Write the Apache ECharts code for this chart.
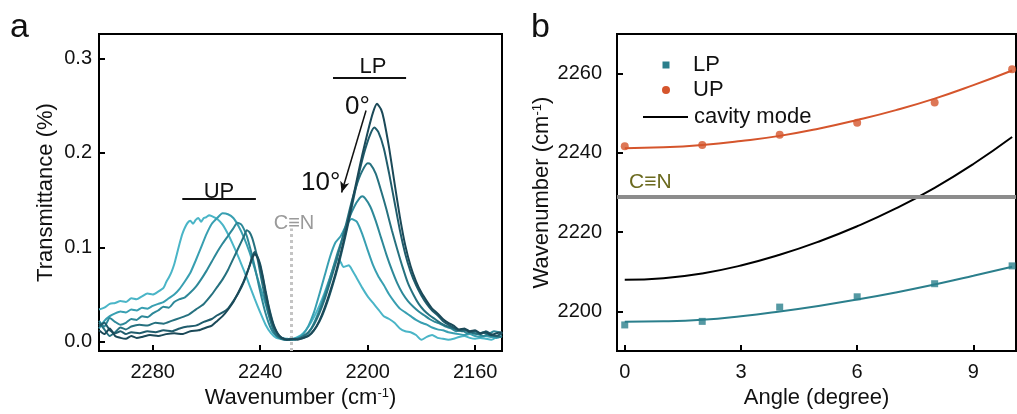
<!DOCTYPE html>
<html>
<head>
<meta charset="utf-8">
<script src="https://cdn.jsdelivr.net/npm/echarts@6/dist/echarts.min.js"></script>
<style>
  html, body { margin: 0; padding: 0; background: #fff; }
  #chart { width: 1017px; height: 414px; }
</style>
</head>
<body>
<div id="chart"></div>
<script>
// ---- panel a: transmittance spectra, [wavenumber, transmittance] ----
const spec0 = [[2300,0.012],[2298,0.008],[2296,0.014],[2294,0.006],[2292,0.004],[2290,0.003],[2288,0.006],[2286,0.004],[2284,0.005],[2281,0.007],[2278,0.006],[2275,0.008],[2272,0.009],[2269,0.008],[2266,0.011],[2263,0.012],[2260,0.015],[2258,0.017],[2256,0.022],[2254,0.027],[2252,0.034],[2250,0.042],[2248,0.053],[2246,0.065],[2244,0.080],[2243,0.088],[2242,0.093],[2241,0.089],[2240,0.080],[2239,0.067],[2238,0.052],[2237,0.038],[2236,0.026],[2235,0.017],[2234,0.011],[2233,0.007],[2232,0.004],[2230,0.002],[2228,0.003],[2226,0.002],[2224,0.004],[2222,0.006],[2220,0.012],[2218,0.022],[2216,0.036],[2214,0.053],[2212,0.072],[2210,0.094],[2208,0.118],[2206,0.145],[2204,0.172],[2202,0.198],[2200,0.222],[2198,0.243],[2196.5,0.252],[2195,0.246],[2194,0.236],[2192,0.205],[2190,0.168],[2188,0.132],[2186,0.102],[2184,0.080],[2182,0.064],[2180,0.052],[2178,0.043],[2176,0.035],[2174,0.030],[2172,0.024],[2170,0.020],[2168,0.017],[2166,0.013],[2164,0.014],[2162,0.011],[2160,0.012],[2158,0.009],[2156,0.010],[2154,0.007],[2152,0.009],[2150,0.010]];
const spec2 = [[2300,0.016],[2298,0.020],[2296,0.012],[2294,0.009],[2292,0.011],[2290,0.008],[2288,0.010],[2285,0.009],[2282,0.011],[2279,0.010],[2276,0.012],[2273,0.011],[2270,0.014],[2267,0.016],[2264,0.017],[2261,0.021],[2258,0.024],[2256,0.028],[2254,0.031],[2252,0.035],[2250,0.043],[2248,0.052],[2246,0.064],[2244,0.080],[2243,0.090],[2242,0.095],[2241,0.090],[2240,0.082],[2239,0.069],[2238,0.054],[2237,0.040],[2236,0.028],[2235,0.018],[2234,0.011],[2233,0.006],[2231,0.003],[2229,0.002],[2227,0.003],[2225,0.003],[2223,0.005],[2221,0.009],[2219,0.016],[2217,0.027],[2215,0.042],[2213,0.060],[2211,0.080],[2209,0.103],[2207,0.128],[2205,0.155],[2203,0.181],[2201,0.203],[2199,0.220],[2197.5,0.227],[2196,0.222],[2194,0.205],[2192,0.178],[2190,0.148],[2188,0.118],[2186,0.093],[2184,0.074],[2182,0.060],[2180,0.049],[2178,0.040],[2176,0.033],[2174,0.028],[2172,0.022],[2170,0.018],[2168,0.015],[2166,0.012],[2164,0.013],[2162,0.010],[2160,0.011],[2158,0.008],[2156,0.011],[2154,0.008],[2152,0.006],[2150,0.009]];
const spec4 = [[2300,0.020],[2298,0.013],[2296,0.006],[2294,0.010],[2292,0.015],[2290,0.013],[2288,0.016],[2285,0.018],[2282,0.017],[2279,0.020],[2276,0.019],[2273,0.022],[2270,0.025],[2267,0.028],[2264,0.034],[2261,0.040],[2258,0.050],[2256,0.058],[2254,0.066],[2252,0.076],[2250,0.088],[2248,0.100],[2246,0.112],[2245,0.118],[2244,0.116],[2243,0.110],[2242,0.100],[2241,0.088],[2240,0.073],[2239,0.058],[2238,0.044],[2237,0.031],[2236,0.020],[2235,0.012],[2234,0.007],[2232,0.003],[2230,0.002],[2228,0.002],[2226,0.003],[2224,0.006],[2222,0.010],[2220,0.018],[2218,0.030],[2216,0.045],[2214,0.063],[2212,0.082],[2210,0.103],[2208,0.125],[2206,0.148],[2204,0.167],[2202,0.181],[2200,0.189],[2199,0.188],[2197,0.178],[2195,0.160],[2193,0.140],[2191,0.118],[2189,0.098],[2187,0.079],[2185,0.062],[2183,0.050],[2181,0.040],[2179,0.033],[2177,0.028],[2175,0.024],[2173,0.020],[2171,0.017],[2169,0.015],[2167,0.013],[2165,0.011],[2163,0.012],[2161,0.009],[2159,0.008],[2157,0.010],[2155,0.007],[2153,0.006],[2150,0.005]];
const spec6 = [[2300,0.022],[2298,0.016],[2296,0.025],[2294,0.021],[2292,0.018],[2290,0.020],[2288,0.024],[2286,0.023],[2284,0.027],[2282,0.026],[2280,0.030],[2278,0.033],[2276,0.037],[2274,0.036],[2272,0.042],[2270,0.045],[2268,0.047],[2266,0.052],[2264,0.058],[2262,0.066],[2260,0.075],[2258,0.085],[2256,0.095],[2254,0.104],[2252,0.112],[2250,0.120],[2248.5,0.126],[2247,0.124],[2246,0.119],[2245,0.112],[2244,0.102],[2243,0.091],[2242,0.079],[2241,0.066],[2240,0.053],[2239,0.041],[2238,0.030],[2237,0.021],[2236,0.014],[2235,0.009],[2233,0.004],[2231,0.002],[2229,0.003],[2227,0.002],[2225,0.004],[2223,0.007],[2221,0.014],[2219,0.026],[2217,0.041],[2215,0.058],[2213,0.077],[2211,0.096],[2209,0.113],[2207,0.130],[2205,0.143],[2203,0.152],[2202,0.154],[2201,0.152],[2199,0.143],[2197,0.128],[2195,0.110],[2193,0.092],[2191,0.076],[2189,0.062],[2187,0.051],[2185,0.043],[2183,0.037],[2181,0.032],[2179,0.028],[2177,0.024],[2175,0.021],[2173,0.019],[2171,0.016],[2169,0.014],[2167,0.011],[2165,0.012],[2163,0.009],[2161,0.010],[2159,0.008],[2157,0.006],[2155,0.008],[2153,0.011],[2150,0.009]];
const spec8 = [[2300,0.014],[2298,0.022],[2296,0.027],[2294,0.030],[2292,0.032],[2290,0.031],[2288,0.034],[2286,0.033],[2284,0.036],[2282,0.035],[2280,0.038],[2278,0.040],[2276,0.042],[2274,0.046],[2272,0.050],[2270,0.056],[2268,0.064],[2266,0.073],[2264,0.086],[2262,0.100],[2260,0.114],[2258,0.125],[2256,0.131],[2254,0.136],[2252,0.135],[2250,0.131],[2248,0.122],[2246,0.110],[2244,0.095],[2242,0.077],[2240,0.058],[2238,0.040],[2237,0.030],[2236,0.022],[2235,0.015],[2234,0.009],[2232,0.004],[2230,0.003],[2228,0.002],[2226,0.004],[2224,0.008],[2222,0.017],[2220,0.031],[2218,0.050],[2216,0.070],[2214,0.090],[2212,0.105],[2210,0.112],[2208,0.123],[2206,0.130],[2204,0.127],[2202,0.114],[2200,0.097],[2198,0.081],[2196,0.069],[2194,0.060],[2192,0.050],[2190,0.042],[2188,0.035],[2186,0.031],[2184,0.027],[2182,0.023],[2180,0.020],[2178,0.018],[2176,0.015],[2174,0.013],[2172,0.012],[2170,0.010],[2168,0.009],[2166,0.008],[2164,0.007],[2162,0.008],[2160,0.006],[2158,0.005],[2156,0.006],[2154,0.005],[2152,0.004],[2150,0.006]];
const spec10 = [[2300,0.034],[2298,0.036],[2296,0.040],[2294,0.041],[2292,0.043],[2290,0.042],[2288,0.046],[2286,0.045],[2284,0.048],[2282,0.051],[2280,0.050],[2278,0.053],[2276,0.057],[2275,0.063],[2274,0.068],[2273,0.074],[2272,0.082],[2271,0.093],[2270,0.104],[2269,0.114],[2268,0.121],[2267,0.126],[2266,0.128],[2265,0.125],[2264,0.129],[2263,0.131],[2262,0.127],[2261,0.131],[2260,0.132],[2259,0.134],[2258,0.133],[2256,0.130],[2254,0.124],[2252,0.114],[2250,0.102],[2248,0.089],[2246,0.075],[2244,0.060],[2242,0.045],[2240,0.031],[2238,0.018],[2236,0.009],[2234,0.004],[2232,0.003],[2230,0.002],[2228,0.003],[2226,0.005],[2224,0.009],[2222,0.016],[2220,0.026],[2218,0.038],[2216,0.052],[2214,0.068],[2212,0.084],[2211,0.088],[2210,0.084],[2209,0.079],[2208,0.080],[2207,0.081],[2206,0.077],[2204,0.067],[2202,0.057],[2200,0.048],[2198,0.041],[2196,0.034],[2194,0.027],[2192,0.024],[2190,0.020],[2188,0.014],[2186,0.011],[2184,0.010],[2182,0.007],[2180,0.002],[2178,0.005],[2176,0.007],[2174,0.004],[2172,0.003],[2170,0.002],[2168,0.003],[2166,0.005],[2164,0.006],[2162,0.004],[2160,0.003],[2158,0.004],[2156,0.003],[2154,0.002],[2152,0.005],[2150,0.010]];
const spectra = [spec0, spec2, spec4, spec6, spec8, spec10];
const spectrumNames = ['0°', '2°', '4°', '6°', '8°', '10°'];

const aTicksX = [2280, 2240, 2200, 2160];
const aTicksY = [0, 0.1, 0.2, 0.3];
const cnWave = 2228.5;            // C≡N stretch position (dotted line)
const upBar = [2269, 2241.6, 0.151];
const lpBar = [2212.9, 2185.7, 0.28];
const angleArrow = [[2200.6, 0.245], [2209.7, 0.158]];

// ---- panel b: dispersion ----
const ptAngles = [0, 2, 4, 6, 8, 10];
const lpPts = [2196.6, 2197.5, 2201.1, 2203.7, 2207.0, 2211.5];
const upPts = [2241.7, 2242.0, 2244.6, 2247.6, 2252.7, 2261.1];
const fitAngles = [0, 1, 2, 3, 4, 5, 6, 7, 8, 9, 10];
const upFit = [2241.2, 2241.4, 2242.0, 2243.0, 2244.3, 2246.1, 2248.3, 2250.8, 2253.7, 2257.1, 2260.8];
const cavityFit = [2208.0, 2208.4, 2209.6, 2211.6, 2214.3, 2217.6, 2221.5, 2226.0, 2231.2, 2237.2, 2244.0];
const lpFit = [2197.4, 2197.5, 2197.9, 2198.8, 2200.0, 2201.4, 2203.0, 2204.8, 2206.8, 2209.0, 2211.3];
const cnLevel = 2229;
const bTicksX = [0, 3, 6, 9];
const bTicksY = [2200, 2220, 2240, 2260];

const FONT = '"Liberation Sans", Arial, sans-serif';
const specColors = ['#1b4958', '#205c6c', '#26717f', '#2d8898', '#389fb1', '#4ab5c7'];
const LP_COLOR = '#2b7f8c';
const UP_COLOR = '#d5552c';

const pair = (xs, ys) => xs.map((x, i) => [x, ys[i]]);

function axisBase(ticks, fontSize, margin, fmt) {
    return {
        axisLine: {show: true, onZero: false, lineStyle: {color: '#000', width: 2}},
        axisTick: {show: true, inside: true, length: 6, customValues: ticks, lineStyle: {color: '#000', width: 2}},
        axisLabel: {customValues: ticks, color: '#111', fontSize: fontSize, fontFamily: FONT, margin: margin,
            formatter: fmt || (v => String(v))},
        splitLine: {show: false}
    };
}

const chart = echarts.init(document.getElementById('chart'), null, {renderer: 'canvas'});

const specSeries = spectra.map((d, i) => ({
    name: spectrumNames[i],
    type: 'line',
    xAxisIndex: 0, yAxisIndex: 0,
    data: d,
    symbol: 'none',
    smooth: 0.2,
    lineStyle: {color: specColors[i], width: 2},
    z: 3 + (5 - i)
}));

const noSym = {symbol: 'none'};

const option = {
    animation: false,
    grid: [
        {left: 99, top: 34, width: 403, height: 326, show: true, borderColor: '#000', borderWidth: 2, backgroundColor: 'transparent'},
        {left: 617, top: 34, width: 399, height: 327, show: true, borderColor: '#000', borderWidth: 2, backgroundColor: 'transparent'}
    ],
    xAxis: [
        Object.assign(axisBase(aTicksX, 20, 11), {
            type: 'value', gridIndex: 0, min: 2150, max: 2300, inverse: true,
            name: 'Wavenumber (cm{sup|-1})', nameLocation: 'middle', nameGap: 29,
            nameTextStyle: {fontSize: 22, fontFamily: FONT, color: '#111',
                rich: {sup: {fontSize: 13, fontFamily: FONT, color: '#111', verticalAlign: 'top'}}}
        }),
        Object.assign(axisBase(bTicksX, 20, 11), {
            type: 'value', gridIndex: 1, min: -0.2, max: 10.1,
            name: 'Angle (degree)', nameLocation: 'middle', nameGap: 29,
            nameTextStyle: {fontSize: 22, fontFamily: FONT, color: '#111'}
        })
    ],
    yAxis: [
        Object.assign(axisBase(aTicksY, 20, 7, v => v.toFixed(1)), {
            type: 'value', gridIndex: 0, min: -0.01, max: 0.326,
            name: 'Transmittance (%)', nameLocation: 'middle', nameGap: 42, nameRotate: 90,
            nameTextStyle: {fontSize: 22, fontFamily: FONT, color: '#111'}
        }),
        Object.assign(axisBase(bTicksY, 20, 15), {
            type: 'value', gridIndex: 1, min: 2190, max: 2270,
            name: 'Wavenumber (cm{sup|-1})', nameLocation: 'middle', nameGap: 64, nameRotate: 90,
            nameTextStyle: {fontSize: 22, fontFamily: FONT, color: '#111',
                rich: {sup: {fontSize: 13, fontFamily: FONT, color: '#111', verticalAlign: 'top'}}}
        })
    ],
    series: [
        // annotations for panel a
        {
            type: 'line', xAxisIndex: 0, yAxisIndex: 0, data: [], silent: true,
            markLine: {
                silent: true, symbol: 'none', label: {show: false},
                data: [
                    [{coord: [cnWave, -0.01], lineStyle: {color: '#c4c4c4', width: 3, type: [3, 3]}}, {coord: [cnWave, 0.12]}],
                    [{coord: [upBar[0], upBar[2]], lineStyle: {color: '#111', width: 2, type: 'solid'}}, {coord: [upBar[1], upBar[2]]}],
                    [{coord: [lpBar[0], lpBar[2]], lineStyle: {color: '#111', width: 2, type: 'solid'}}, {coord: [lpBar[1], lpBar[2]]}],
                    [{coord: angleArrow[0], symbol: 'none', lineStyle: {color: '#111', width: 1.5, type: 'solid'}},
                     {coord: angleArrow[1], symbol: 'arrow', symbolSize: [7, 11]}]
                ]
            }
        },
        ...specSeries,
        // panel b
        {
            name: 'C≡N', type: 'line', xAxisIndex: 1, yAxisIndex: 1, data: [], silent: true,
            markLine: {
                silent: true, symbol: 'none', label: {show: false},
                lineStyle: {color: '#8c8c8c', width: 4, type: 'solid'},
                data: [{yAxis: cnLevel}]
            }
        },
        {name: 'UP fit', type: 'line', xAxisIndex: 1, yAxisIndex: 1, data: pair(fitAngles, upFit), smooth: true, ...noSym,
            lineStyle: {color: UP_COLOR, width: 2}},
        {name: 'cavity mode', type: 'line', xAxisIndex: 1, yAxisIndex: 1, data: pair(fitAngles, cavityFit), smooth: true, ...noSym,
            lineStyle: {color: '#000', width: 2}},
        {name: 'LP fit', type: 'line', xAxisIndex: 1, yAxisIndex: 1, data: pair(fitAngles, lpFit), smooth: true, ...noSym,
            lineStyle: {color: LP_COLOR, width: 2}},
        {name: 'LP', type: 'scatter', xAxisIndex: 1, yAxisIndex: 1, data: pair(ptAngles, lpPts), symbol: 'rect', symbolSize: 7,
            itemStyle: {color: LP_COLOR}, z: 10},
        {name: 'UP', type: 'scatter', xAxisIndex: 1, yAxisIndex: 1, data: pair(ptAngles, upPts), symbol: 'circle', symbolSize: 8,
            itemStyle: {color: UP_COLOR}, z: 10}
    ],
    graphic: [
        {type: 'text', x: 10, y: 28, style: {text: 'a', fontSize: 34, fontFamily: FONT, fill: '#111', textVerticalAlign: 'middle'}},
        {type: 'text', x: 531, y: 28, style: {text: 'b', fontSize: 34, fontFamily: FONT, fill: '#111', textVerticalAlign: 'middle'}},
        {type: 'text', x: 219, y: 192, style: {text: 'UP', fontSize: 22, fontFamily: FONT, fill: '#111', textAlign: 'center', textVerticalAlign: 'middle'}},
        {type: 'text', x: 373, y: 67, style: {text: 'LP', fontSize: 22, fontFamily: FONT, fill: '#111', textAlign: 'center', textVerticalAlign: 'middle'}},
        {type: 'text', x: 345, y: 107, style: {text: '0°', fontSize: 26, fontFamily: FONT, fill: '#111', textVerticalAlign: 'middle'}},
        {type: 'text', x: 301, y: 183, style: {text: '10°', fontSize: 26, fontFamily: FONT, fill: '#111', textVerticalAlign: 'middle'}},
        {type: 'text', x: 294, y: 223, style: {text: 'C≡N', fontSize: 20, fontFamily: FONT, fill: '#9a9a9a', textAlign: 'center', textVerticalAlign: 'middle'}},
        // panel b labels and legend
        {type: 'text', x: 629, y: 182, style: {text: 'C≡N', fontSize: 21, fontFamily: FONT, fill: '#6b6a1f', textVerticalAlign: 'middle'}},
        {type: 'rect', shape: {x: 662.5, y: 61.5, width: 7, height: 7}, style: {fill: LP_COLOR}},
        {type: 'text', x: 693, y: 65, style: {text: 'LP', fontSize: 22, fontFamily: FONT, fill: '#111', textVerticalAlign: 'middle'}},
        {type: 'circle', shape: {cx: 666, cy: 90, r: 4}, style: {fill: UP_COLOR}},
        {type: 'text', x: 693, y: 90, style: {text: 'UP', fontSize: 22, fontFamily: FONT, fill: '#111', textVerticalAlign: 'middle'}},
        {type: 'line', shape: {x1: 643, y1: 117, x2: 688, y2: 117}, style: {stroke: '#000', lineWidth: 2}},
        {type: 'text', x: 694, y: 117, style: {text: 'cavity mode', fontSize: 22, fontFamily: FONT, fill: '#111', textVerticalAlign: 'middle'}}
    ]
};

chart.setOption(option);
</script>
</body>
</html>
